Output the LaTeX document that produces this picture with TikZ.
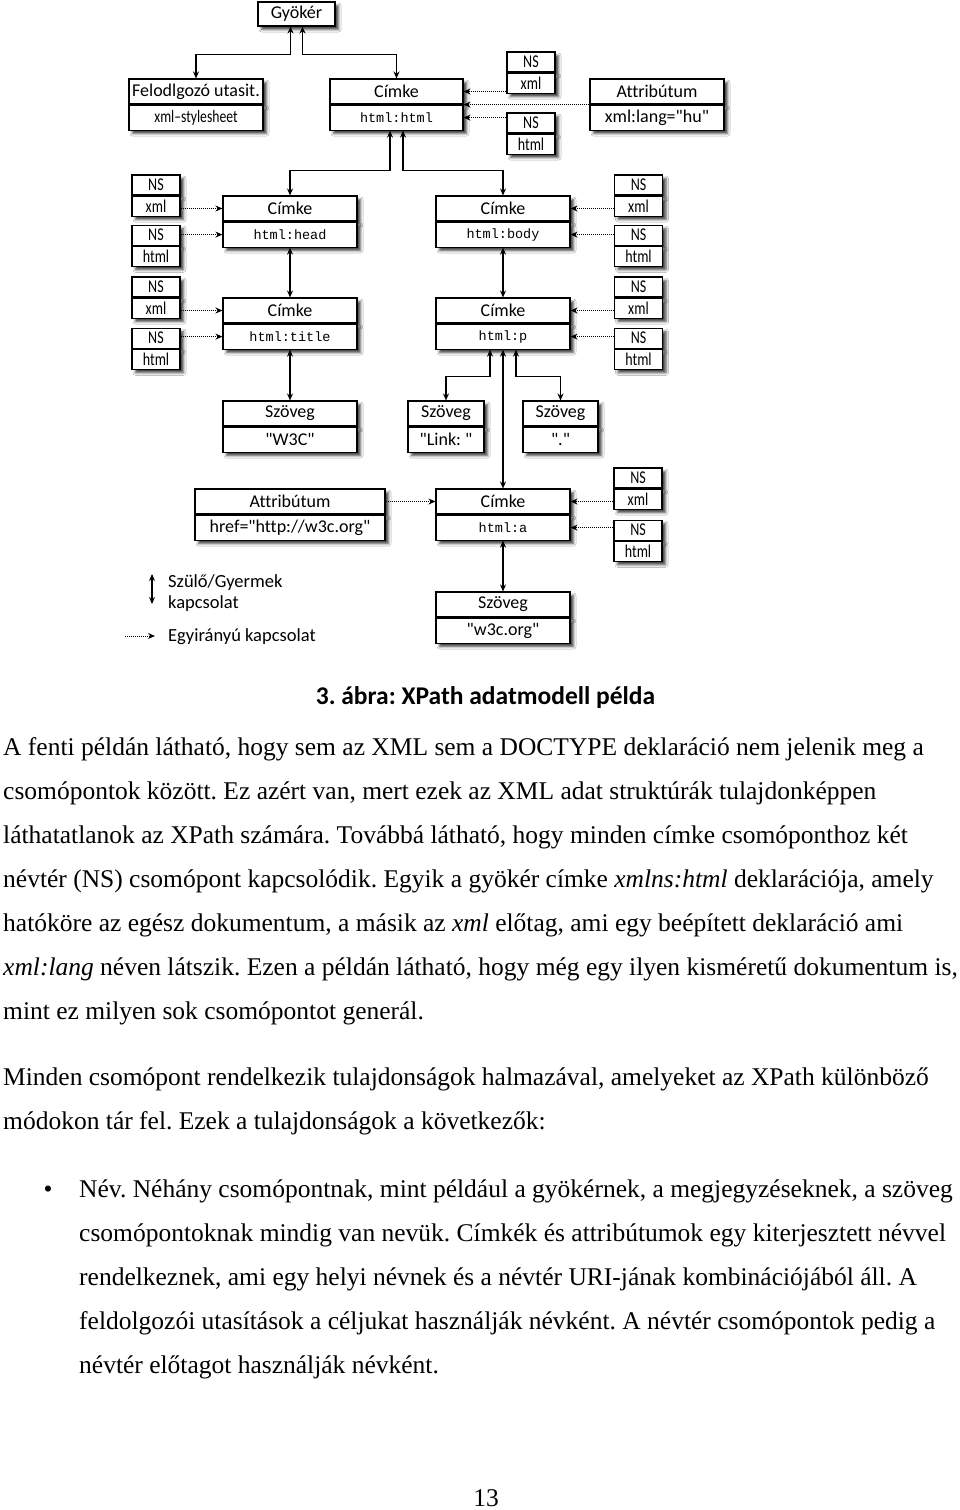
\documentclass[tikz,border=0pt]{standalone}
\usepackage{fontspec}
\setmainfont{Liberation Serif}
\newfontfamily\dobozfont[Ligatures=NoCommon]{Carlito}
\newfontfamily\nsfont[FakeStretch=0.78]{Carlito}
\newfontfamily\kodfont{Liberation Mono}
\usetikzlibrary{arrows.meta,positioning,shadows.blur,calc}
\frenchspacing

\begin{document}
\begin{tikzpicture}[x=1pt, y=-1pt, >=Stealth,
			fej/.style={draw, fill=white, line width=1.1pt, inner sep=0pt, minimum height=25pt, minimum width=134pt, font=\dobozfont\fontsize{18}{20}\selectfont, blur shadow={shadow xshift=3.5pt, shadow yshift=-3.5pt, shadow blur radius=2.5pt, shadow opacity=75}},
			ert/.style={fej},
			ertns/.style={fej, font=\nsfont\fontsize{17.5}{19}\selectfont},
			ertkod/.style={fej, font=\kodfont\fontsize{13.5}{15}\selectfont},
			ns/.style={fej, minimum width=48pt, minimum height=20pt, font=\nsfont\fontsize{18}{19}\selectfont},
			szulo/.style={line width=1.1pt, {Stealth[length=7pt,width=6pt]}-{Stealth[length=7pt,width=6pt]}},
			egyir/.style={line width=1pt, densely dotted, -{Stealth[length=7pt,width=6pt]}},
			jel/.style={font=\dobozfont\fontsize{18.5}{20}\selectfont, anchor=base west, inner sep=0pt},
			sor/.style={font=\fontsize{25.5}{44}\selectfont, anchor=base west, inner sep=0pt}
			]
			\fill[white] (0,0) rectangle (960,1510);
			\useasboundingbox (0,0) rectangle (960,1510);
			
			\node[fej, minimum width=77pt, minimum height=24pt](gy) at (296.5,14) {Gyökér};
			
			\node[fej](fu) at (196,91.5) {Felodlgozó utasit.};
			\node[ertns](fuv) [below = 0pt of fu] {xml–stylesheet};
			
			\node[fej, minimum width=133pt](c0) at (396.5,91.5) {Címke};
			\node[ertkod, minimum width=133pt](c0v) [below = 0pt of c0] {html:html};
			
			\node[ns](n0x) at (531,62) {NS};
			\node[ns](n0xv) [below = 0pt of n0x] {xml};
			\node[ns](n0h) at (531,123) {NS};
			\node[ns](n0hv) [below = 0pt of n0h] {html};
			
			\node[fej](a0) at (657,91.5) {Attribútum};
			\node[ert](a0v) [below = 0pt of a0] {xml:lang="hu"};
			
			\node[fej](c1) at (290,208.5) {Címke};
			\node[ertkod](c1v) [below = 0pt of c1] {html:head};
			
			\node[fej](c2) at (503,208.5) {Címke};
			\node[ertkod](c2v) [below = 0pt of c2] {html:body};
			
			\node[ns](n1x) at (156,185) {NS};
			\node[ns](n1xv) [below = 0pt of n1x] {xml};
			\node[ns](n1h) [below = 8pt of n1xv] {NS};
			\node[ns](n1hv) [below = 0pt of n1h] {html};
			
			\node[ns](n2x) at (638.5,185) {NS};
			\node[ns](n2xv) [below = 0pt of n2x] {xml};
			\node[ns](n2h) [below = 8pt of n2xv] {NS};
			\node[ns](n2hv) [below = 0pt of n2h] {html};
			
			\node[fej](c3) at (290,310.5) {Címke};
			\node[ertkod](c3v) [below = 0pt of c3] {html:title};
			
			\node[fej](c4) at (503,310.5) {Címke};
			\node[ertkod](c4v) [below = 0pt of c4] {html:p};
			
			\node[ns](n3x) at (156,287) {NS};
			\node[ns](n3xv) [below = 0pt of n3x] {xml};
			\node[ns](n3h) [below = 9pt of n3xv] {NS};
			\node[ns](n3hv) [below = 0pt of n3h] {html};
			
			\node[ns](n4x) at (638.5,287) {NS};
			\node[ns](n4xv) [below = 0pt of n4x] {xml};
			\node[ns](n4h) [below = 9pt of n4xv] {NS};
			\node[ns](n4hv) [below = 0pt of n4h] {html};
			
			\node[fej](sz1) at (290,413.5) {Szöveg};
			\node[ert](sz1v) [below = 0pt of sz1] {"W3C"};
			
			\node[fej, minimum width=76pt](sz2) at (446,413.5) {Szöveg};
			\node[ert, minimum width=76pt](sz2v) [below = 0pt of sz2] {"Link: "};
			
			\node[fej, minimum width=75pt](sz3) at (560.5,413.5) {Szöveg};
			\node[ert, minimum width=75pt](sz3v) [below = 0pt of sz3] {"."};
			
			\node[fej, minimum width=190pt](a1) at (290,501.5) {Attribútum};
			\node[ert, minimum width=190pt](a1v) [below = 0pt of a1] {href="http://w3c.org"};
			
			\node[fej](c5) at (503,501.5) {Címke};
			\node[ertkod](c5v) [below = 0pt of c5] {html:a};
			
			\node[ns](n5x) at (638,478) {NS};
			\node[ns](n5xv) [below = 0pt of n5x] {xml};
			\node[ns](n5h) [below = 10pt of n5xv] {NS};
			\node[ns](n5hv) [below = 0pt of n5h] {html};
			
			\node[fej](sz4) at (503,604.5) {Szöveg};
			\node[ert](sz4v) [below = 0pt of sz4] {"w3c.org"};
			
			\draw[szulo] ([xshift=-6pt]gy.south) -- ++(0,28) -| (fu.north);
			\draw[szulo] ([xshift=6pt]gy.south) -- ++(0,28) -| (c0.north);
			\draw[szulo] ([xshift=-6.5pt]c0v.south) -- ++(0,40) -| (c1.north);
			\draw[szulo] ([xshift=6.5pt]c0v.south) -- ++(0,40) -| (c2.north);
			\draw[szulo] (c1v.south) -- (c3.north);
			\draw[szulo] (c2v.south) -- (c4.north);
			\draw[szulo] (c3v.south) -- (sz1.north);
			\draw[szulo] ([xshift=-13pt]c4v.south) -- ++(0,27) -| (sz2.north);
			\draw[szulo] (c4v.south) -- (c5.north);
			\draw[szulo] ([xshift=13pt]c4v.south) -- ++(0,27) -| (sz3.north);
			\draw[szulo] (c5v.south) -- (sz4.north);
			
			\draw[egyir] (c0.east -| n0x.west) -- (c0.east);
			\draw[egyir] (a0.south west) -- (c0.south east);
			\draw[egyir] (c0v.east -| n0h.west) -- (c0v.east);
			\draw[egyir] (c1.west -| n1x.east) -- (c1.west);
			\draw[egyir] (c1v.west -| n1h.east) -- (c1v.west);
			\draw[egyir] (c2.east -| n2x.west) -- (c2.east);
			\draw[egyir] (c2v.east -| n2h.west) -- (c2v.east);
			\draw[egyir] (c3.west -| n3x.east) -- (c3.west);
			\draw[egyir] (c3v.west -| n3h.east) -- (c3v.west);
			\draw[egyir] (c4.east -| n4x.west) -- (c4.east);
			\draw[egyir] (c4v.east -| n4h.west) -- (c4v.east);
			\draw[egyir] (a1.east) -- (c5.west);
			\draw[egyir] (c5.east -| n5x.west) -- (c5.east);
			\draw[egyir] (c5v.east -| n5h.west) -- (c5v.east);
			
			% jelmagyarazat
			\coordinate (jel1) at (152,574);
			\coordinate (jel2) at (152,604);
			\draw[szulo] (jel1) -- (jel2);
			\node[jel](jelSz) at (168,587) {Szülő/Gyermek};
			\node[jel](jelK) at (168,608) {kapcsolat};
			\coordinate (jel3) at (125,636);
			\coordinate (jel4) at (155,636);
			\draw[egyir] (jel3) -- (jel4);
			\node[jel](jelE) at (168,641) {Egyirányú kapcsolat};
			
			\node[font=\dobozfont\bfseries\fontsize{25.5}{28}\selectfont, anchor=base, inner sep=0pt](cim) at (485.5,704) {3. ábra: XPath adatmodell példa};
			
			\node[sor](s1) at (3,755) {A fenti példán látható, hogy sem az XML sem a DOCTYPE deklaráció nem jelenik meg a};
			\node[sor](s2) at (3,799) {csomópontok között. Ez azért van, mert ezek az XML adat struktúrák tulajdonképpen};
			\node[sor](s3) at (3,843) {láthatatlanok az XPath számára. Továbbá látható, hogy minden címke csomóponthoz két};
			\node[sor](s4) at (3,887) {névtér (NS) csomópont kapcsolódik. Egyik a gyökér címke \textit{xmlns:html} deklarációja, amely};
			\node[sor](s5) at (3,931) {hatóköre az egész dokumentum, a másik az \textit{xml} előtag, ami egy beépített deklaráció ami};
			\node[sor](s6) at (3,975) {\textit{xml:lang} néven látszik. Ezen a példán látható, hogy még egy ilyen kisméretű dokumentum is,};
			\node[sor](s7) at (3,1019) {mint ez milyen sok csomópontot generál.};
			
			\node[sor](s8) at (3,1085) {Minden csomópont rendelkezik tulajdonságok halmazával, amelyeket az XPath különböző};
			\node[sor](s9) at (3,1129) {módokon tár fel. Ezek a tulajdonságok a következők:};
			
			\node[sor, anchor=base](pont) at (48,1197) {\textbullet};
			\node[sor](b1) at (79,1197) {Név. Néhány csomópontnak, mint például a gyökérnek, a megjegyzéseknek, a szöveg};
			\node[sor](b2) at (79,1241) {csomópontoknak mindig van nevük. Címkék és attribútumok egy kiterjesztett névvel};
			\node[sor](b3) at (79,1285) {rendelkeznek, ami egy helyi névnek és a névtér URI-jának kombinációjából áll. A};
			\node[sor](b4) at (79,1329) {feldolgozói utasítások a céljukat használják névként. A névtér csomópontok pedig a};
			\node[sor](b5) at (79,1373) {névtér előtagot használják névként.};
			
			\node[sor, anchor=base](oldal) at (486,1506) {13};
			
			\end{tikzpicture}
\end{document}
